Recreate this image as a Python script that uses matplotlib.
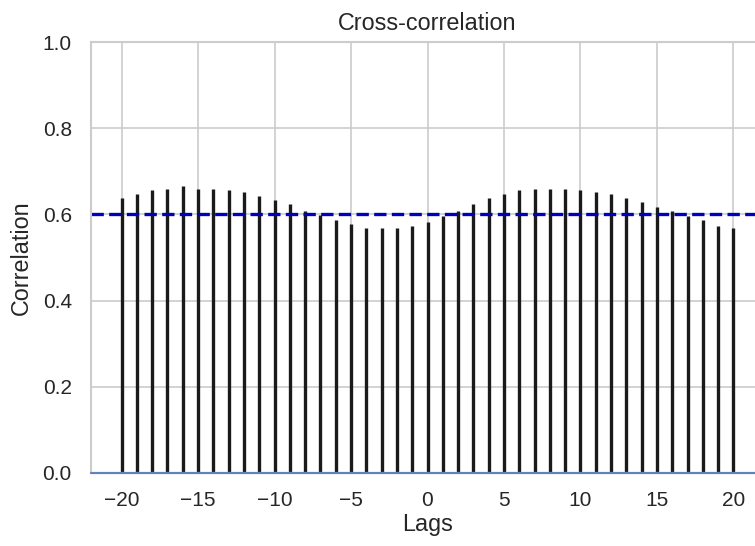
import matplotlib
matplotlib.use("Agg")
import matplotlib.pyplot as plt
import seaborn as sns
import numpy as np

lags = list(range(-20, 21))
corr = [0.637, 0.647, 0.656, 0.660, 0.666, 0.660, 0.660, 0.657, 0.651, 0.643,
        0.633, 0.623, 0.609, 0.599, 0.586, 0.577, 0.568, 0.568, 0.568, 0.572,
        0.582, 0.597, 0.607, 0.623, 0.637, 0.647, 0.656, 0.660, 0.660, 0.660,
        0.656, 0.651, 0.647, 0.637, 0.628, 0.618, 0.608, 0.597, 0.586, 0.572,
        0.568]
threshold = 0.6

sns.set_theme(style="whitegrid")
plt.rcParams['font.family'] = ['Liberation Sans', 'DejaVu Sans']

dpi = 120
fig = plt.figure(figsize=(755 / dpi, 546 / dpi), dpi=dpi)
W, H = 755, 546
ax = fig.add_axes([91 / W, 1 - 473 / H, 673 / W, (473 - 42) / H])

ax.vlines(lags, 0, corr, color='k', lw=2)
ax.axhline(0, color='#5f84bd', lw=1.3, zorder=3, clip_on=False)
ax.axhline(threshold, color='#0000bb', lw=2, ls='--')

ax.set_xlim(-22, 22)
ax.set_ylim(0, 1)
ax.set_xticks([-20, -15, -10, -5, 0, 5, 10, 15, 20])
ax.tick_params(axis='both', labelsize=12.5, colors='#262626')
ax.tick_params(axis='y', pad=5.5)
ax.tick_params(axis='x', pad=4.5)
ax.set_xlabel('Lags', fontsize=14, labelpad=2)
ax.set_ylabel('Correlation', fontsize=14, labelpad=6)
ax.set_title('Cross-correlation', fontsize=14, pad=7)

fig.savefig('out.png', dpi=dpi)
